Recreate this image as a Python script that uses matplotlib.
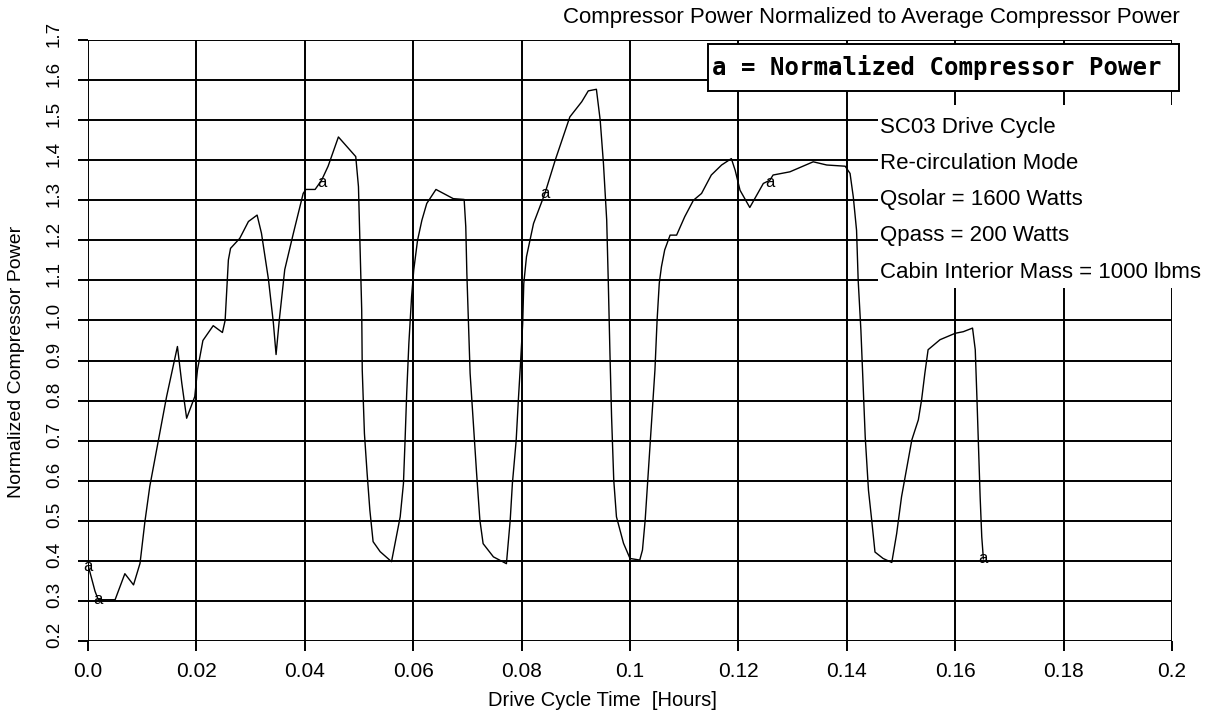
import matplotlib
matplotlib.use("Agg")
import matplotlib.pyplot as plt
import matplotlib.transforms as mtransforms
from matplotlib.patches import Rectangle

# compressor power trace (x in hours)
time_h = [0.0, 0.0013, 0.0019, 0.0050, 0.0068, 0.0084, 0.0096, 0.0105, 0.0114, 0.0130,
          0.0145, 0.0165, 0.0173, 0.0182, 0.0197, 0.0202, 0.0212, 0.0231, 0.0248, 0.0253,
          0.0259, 0.0263, 0.0280, 0.0296, 0.0312, 0.0320, 0.0333, 0.0342, 0.0347, 0.0353,
          0.0363, 0.0379, 0.0397, 0.0402, 0.0419, 0.0431, 0.0443, 0.0462, 0.0494, 0.0499,
          0.0502, 0.0505, 0.0506, 0.0510, 0.0515, 0.0520, 0.0526, 0.0539, 0.0560, 0.0576,
          0.0582, 0.0585, 0.0588, 0.0592, 0.0597, 0.0601, 0.0608, 0.0616, 0.0625, 0.0642,
          0.0674, 0.0694, 0.0697, 0.0699, 0.0702, 0.0705, 0.0711, 0.0717, 0.0723, 0.0729,
          0.0748, 0.0772, 0.0779, 0.0783, 0.0790, 0.0794, 0.0798, 0.0802, 0.0804, 0.0809,
          0.0822, 0.0843, 0.0862, 0.0889, 0.0911, 0.0923, 0.0938, 0.0945, 0.0951, 0.0957,
          0.0960, 0.0963, 0.0966, 0.0970, 0.0975, 0.0988, 0.1000, 0.1018, 0.1023, 0.1028,
          0.1034, 0.1040, 0.1046, 0.1050, 0.1054, 0.1058, 0.1064, 0.1074, 0.1086, 0.1101,
          0.1117, 0.1132, 0.1150, 0.1169, 0.1187, 0.1194, 0.1203, 0.1221, 0.1246, 0.1258,
          0.1264, 0.1295, 0.1338, 0.1363, 0.1397, 0.1406, 0.1412, 0.1418, 0.1421, 0.1426,
          0.1430, 0.1434, 0.1440, 0.1446, 0.1452, 0.1467, 0.1483, 0.1492, 0.1501, 0.1510,
          0.1520, 0.1532, 0.1538, 0.1544, 0.1550, 0.1572, 0.1600, 0.1615, 0.1632, 0.1637,
          0.1640, 0.1643, 0.1646, 0.1649, 0.1652]
power = [0.390, 0.324, 0.303, 0.303, 0.368, 0.340, 0.394, 0.498, 0.586, 0.702,
         0.810, 0.935, 0.844, 0.756, 0.810, 0.877, 0.950, 0.987, 0.970, 1.000,
         1.151, 1.180, 1.205, 1.247, 1.263, 1.218, 1.102, 0.994, 0.915, 1.002,
         1.127, 1.218, 1.317, 1.327, 1.327, 1.350, 1.385, 1.458, 1.409, 1.334,
         1.176, 1.026, 0.876, 0.718, 0.618, 0.527, 0.448, 0.423, 0.398, 0.510,
         0.593, 0.701, 0.818, 0.943, 1.059, 1.126, 1.200, 1.250, 1.292, 1.327,
         1.304, 1.302, 1.234, 1.117, 0.992, 0.868, 0.743, 0.618, 0.502, 0.443,
         0.410, 0.393, 0.502, 0.593, 0.701, 0.801, 0.893, 0.992, 1.092, 1.159,
         1.242, 1.317, 1.400, 1.508, 1.546, 1.573, 1.577, 1.500, 1.392, 1.251,
         1.093, 0.918, 0.760, 0.602, 0.510, 0.444, 0.406, 0.402, 0.427, 0.502,
         0.627, 0.751, 0.876, 1.001, 1.093, 1.134, 1.176, 1.213, 1.213, 1.259,
         1.300, 1.317, 1.363, 1.388, 1.404, 1.375, 1.325, 1.282, 1.342, 1.350,
         1.363, 1.371, 1.396, 1.388, 1.385, 1.367, 1.308, 1.225, 1.100, 0.976,
         0.843, 0.709, 0.576, 0.501, 0.422, 0.406, 0.396, 0.468, 0.560, 0.627,
         0.702, 0.752, 0.802, 0.868, 0.927, 0.952, 0.968, 0.972, 0.981, 0.927,
         0.810, 0.685, 0.560, 0.460, 0.405]

# "a" symbols on the curve
mark_x = [0.0, 0.0019, 0.0431, 0.0843, 0.1258, 0.1652]
mark_y = [0.385, 0.303, 1.345, 1.317, 1.345, 0.405]

xticks = [0.0, 0.02, 0.04, 0.06, 0.08, 0.1, 0.12, 0.14, 0.16, 0.18, 0.2]
xlabels = ["0.0", "0.02", "0.04", "0.06", "0.08", "0.1", "0.12", "0.14", "0.16", "0.18", "0.2"]
yticks = [0.2, 0.3, 0.4, 0.5, 0.6, 0.7, 0.8, 0.9, 1.0, 1.1, 1.2, 1.3, 1.4, 1.5, 1.6, 1.7]
ylabels = ["0.2", "0.3", "0.4", "0.5", "0.6", "0.7", "0.8", "0.9", "1.0",
           "1.1", "1.2", "1.3", "1.4", "1.5", "1.6", "1.7"]

notes = ["SC03 Drive Cycle", "Re-circulation Mode", "Qsolar = 1600 Watts",
         "Qpass = 200 Watts", "Cabin Interior Mass = 1000 lbms"]

plt.rcParams['font.family'] = ['Liberation Sans', 'DejaVu Sans']

fig = plt.figure(figsize=(12.12, 7.13), dpi=100)
ax = fig.add_axes([88/1212, 1-641/713, (1172-88)/1212, (641-40)/713])

ax.plot(time_h, power, color='black', lw=1.0, zorder=3)
for mx, my in zip(mark_x, mark_y):
    ax.text(mx, my, "a", fontsize=12, ha='center', va='center', zorder=4)

ax.set_xlim(0, 0.2)
ax.set_ylim(0.2, 1.7)
ax.set_xticks(xticks)
ax.set_xticklabels(xlabels, fontsize=15)
ax.set_yticks(yticks)
ax.set_yticklabels(ylabels, fontsize=13.5, family=['Liberation Sans Narrow', 'Liberation Sans'])
ax.grid(True, color='black', lw=1.4)
for s in ax.spines.values():
    s.set_visible(False)
ax.tick_params(axis='both', direction='out', length=7, width=1.4, color='black')
ax.tick_params(axis='x', pad=8)
ax.tick_params(axis='y', pad=11, labelrotation=90)
# y labels sit a bit above their ticks in the original
shift = mtransforms.ScaledTranslation(0, 6/100, fig.dpi_scale_trans)
for lab in ax.get_yticklabels():
    lab.set_va('center')
    lab.set_transform(lab.get_transform() + shift)

# white area behind the case notes (hides grid)
ax.add_patch(Rectangle((878/1212, 1-288/713), 334/1212, 183/713, transform=fig.transFigure,
                       facecolor='white', edgecolor='none', zorder=2, clip_on=False))
for i, t in enumerate(notes):
    fig.text(880/1212, 1-(127+36.3*i)/713, t, fontsize=16, ha='left', va='center')

# legend box
fig.patches.append(Rectangle((708/1212, 1-91/713), 471/1212, 47/713, transform=fig.transFigure,
                             facecolor='white', edgecolor='black', lw=1.4, zorder=5))
fig.text(712/1212, 1-67/713, "a = Normalized Compressor Power", family='DejaVu Sans Mono',
         weight='bold', fontsize=17.3, ha='left', va='center', zorder=6)

fig.text(1180/1212, 1-18/713, "Compressor Power Normalized to Average Compressor Power",
         fontsize=16, ha='right', va='center')
fig.text(17/1212, 1-362/713, "Normalized Compressor Power", fontsize=14, rotation=90,
         ha='center', va='center')
fig.text(602/1212, 1-700/713, "Drive Cycle Time  [Hours]", fontsize=14.5, ha='center', va='center')

fig.savefig("out.png", dpi=100)
